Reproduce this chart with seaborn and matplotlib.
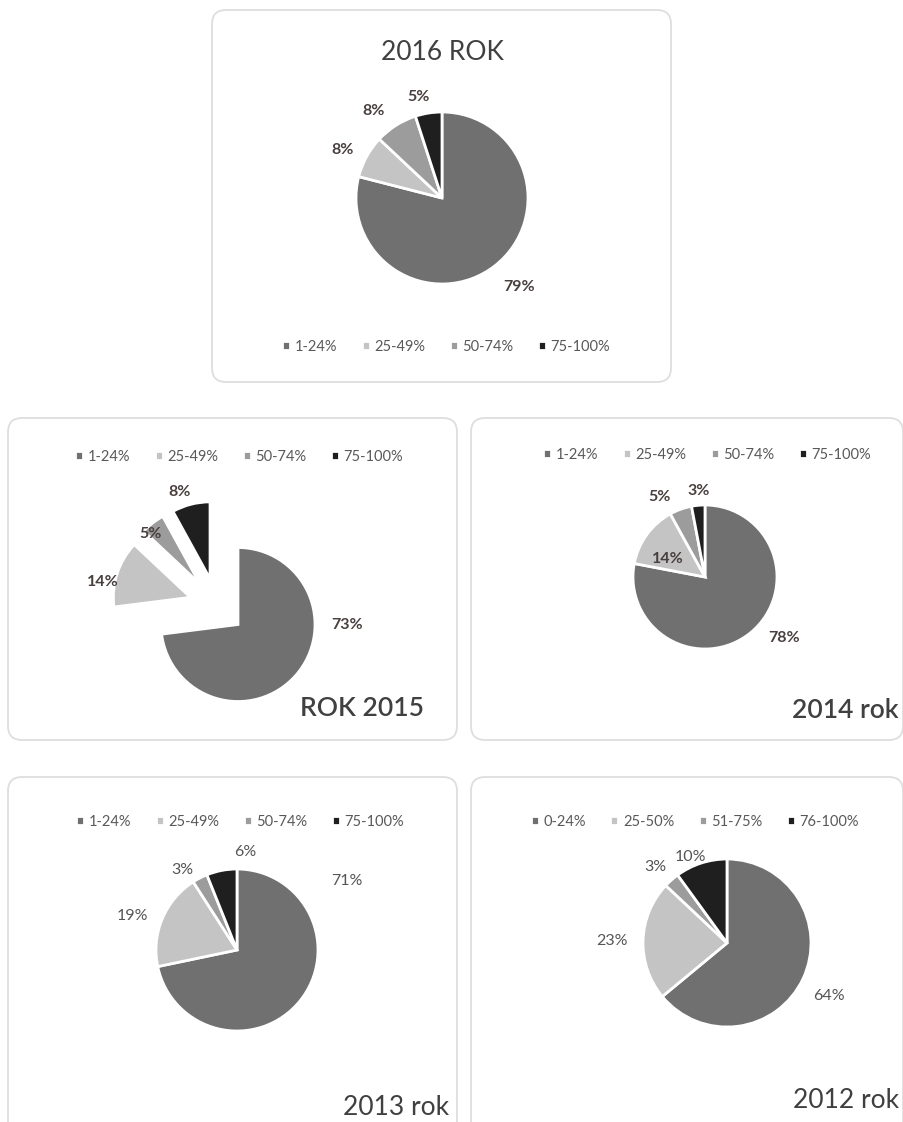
import matplotlib
matplotlib.use("Agg")
import matplotlib.pyplot as plt
from matplotlib.patches import FancyBboxPatch
import numpy as np
import seaborn as sns

sns.set_theme(style="white")
plt.rcParams["font.family"] = ["Lato", "DejaVu Sans"]

W, H = 904, 1122

# data
cats_std = ["1-24%", "25-49%", "50-74%", "75-100%"]
cats_2012 = ["0-24%", "25-50%", "51-75%", "76-100%"]
vals_2016 = [79, 8, 8, 5]
vals_2015 = [73, 14, 5, 8]
vals_2014 = [78, 14, 5, 3]
vals_2013 = [71, 19, 3, 6]
vals_2012 = [64, 23, 3, 10]
titles = ["2016 ROK", "ROK 2015", "2014 rok", "2013 rok", "2012 rok"]

grays = sns.color_palette(["#707070", "#c4c4c4", "#9c9c9c", "#1f1f1f"])

# layout (pixels of the 904x1122 image)
panels = [
    dict(vals=vals_2016, cats=cats_std, title=titles[0], box=(211, 10, 672, 382),
         c=(442, 198), r=86, expl=0, t_xy=(442, 52), t_ha="center", t_w="normal",
         leg=(446, 347), d=[1.37, 1.28, 1.29, 1.21], a=[3, 3, 6, 4], strong=True),
    dict(vals=vals_2015, cats=cats_std, title=titles[1], box=(7, 418, 458, 740),
         c=(217, 606), r=77, expl=28, t_xy=(424, 708), t_ha="right", t_w="semibold",
         leg=(239, 457), d=[1.71, 1.52, 1.27, 1.56], a=[33, 6, 5, 4], strong=True),
    dict(vals=vals_2014, cats=cats_std, title=titles[2], box=(470, 418, 904, 740),
         c=(705, 577), r=72, expl=0, t_xy=(899, 710), t_ha="right", t_w="semibold",
         leg=(707, 455), d=[1.39, 0.58, 1.28, 1.2], a=[13, 10, 10, -1], strong=True),
    dict(vals=vals_2013, cats=cats_std, title=titles[3], box=(7, 777, 458, 1140),
         c=(237, 950), r=81, expl=0, t_xy=(449, 1108), t_ha="right", t_w="normal",
         leg=(240, 822), d=[1.6, 1.36, 1.2, 1.21], a=[71, 5, 7, -16], strong=False),
    dict(vals=vals_2012, cats=cats_2012, title=titles[4], box=(470, 777, 904, 1140),
         c=(727, 943), r=84, expl=0, t_xy=(899, 1100), t_ha="right", t_w="normal",
         leg=(695, 822), d=[1.37, 1.37, 1.24, 1.11], a=[-2, 1, 2, 5], strong=False),
]

fig = plt.figure(figsize=(W / 100, H / 100), dpi=100)
ax = fig.add_axes([0, 0, 1, 1])

for p in panels:
    x0, y0, x1, y1 = p["box"]
    ax.add_patch(FancyBboxPatch((x0 + 1, H - y1), x1 - x0 - 2, y1 - y0,
                                boxstyle="round,pad=0,rounding_size=14",
                                fc="white", ec="#dedede", lw=1.3, zorder=0))
    cx, cy = p["c"][0], H - p["c"][1]
    wedges, _ = ax.pie(p["vals"], colors=grays, startangle=90, counterclock=False,
                       radius=p["r"], center=(cx, cy),
                       explode=[p["expl"]] * 4,
                       wedgeprops=dict(edgecolor="white", linewidth=2))
    lab_col = "#4a3f3f" if p["strong"] else "#555555"
    weight = "bold" if p["strong"] else "normal"
    for w, v, dd, aa in zip(wedges, p["vals"], p["d"], p["a"]):
        mid = np.deg2rad((w.theta1 + w.theta2) / 2 + aa)
        ax.text(cx + dd * p["r"] * np.cos(mid), cy + dd * p["r"] * np.sin(mid),
                f"{v}%", ha="center", va="center", fontsize=11.5,
                color=lab_col, fontweight=weight)
    tx, ty = p["t_xy"]
    ax.text(tx, H - ty, p["title"], ha=p["t_ha"], va="center", fontsize=19,
            color="#404040", fontweight=p["t_w"])
    lx, ly = p["leg"]
    fig.legend(wedges, p["cats"], loc="center", bbox_to_anchor=(lx / W, 1 - ly / H),
               ncol=4, frameon=False, fontsize=10.5, handlelength=0.55,
               handleheight=0.55, handletextpad=0.3, columnspacing=1.7,
               labelcolor="#595959")

ax.set_xlim(0, W)
ax.set_ylim(0, H)
ax.set_aspect("equal")
ax.axis("off")

fig.savefig("out.png", dpi=100, facecolor="white")
